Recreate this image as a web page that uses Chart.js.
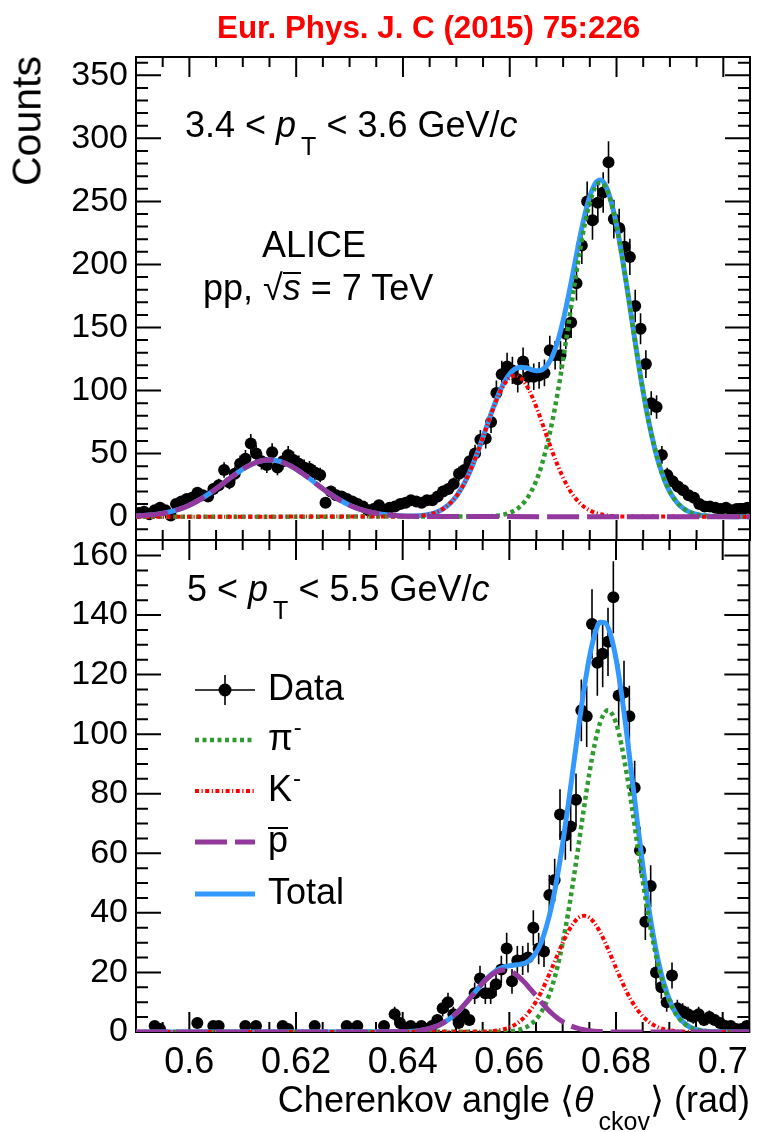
<!DOCTYPE html>
<html>
<head>
<meta charset="utf-8">
<title>Cherenkov angle fits</title>
<script src="https://cdn.jsdelivr.net/npm/chart.js@4.4.1/dist/chart.umd.min.js"></script>
<style>
  body { margin: 0; background: #fff; }
  #page { position: relative; width: 757px; height: 1132px; overflow: hidden; background: #fff;
          font-family: "Liberation Sans", Arial, Helvetica, sans-serif; color: #000; }
  canvas { position: absolute; left: 0; }
  .t { position: absolute; white-space: nowrap; font-size: 36px; line-height: 1; }
  .sub { font-size: 25px; position: relative; top: 18px; margin-left: 5px; }
  .sup { font-size: 24px; position: relative; top: -15px; margin-left: 1px; }
  /* bar drawn as a top border so its height can be set */
  .bar { display: inline-block; border-top: 2px solid #000; }
  #journal { font-family: "Liberation Sans Narrow", "Liberation Sans", Arial, sans-serif; font-weight: bold;
             font-size: 32px; color: #ff0000; left: 217px; top: 11px; transform-origin: left top; }
  #ytitle { left: 27px; top: 121px; font-size: 41px; transform: translate(-50%, -50%) rotate(-90deg); }
</style>
</head>
<body>
<div id="page">
  <canvas id="chartTop" width="757" height="580" style="top:0"></canvas>
  <canvas id="chartBottom" width="757" height="632" style="top:500px"></canvas>

  <div class="t" id="journal">Eur. Phys. J. C (2015) 75:226</div>
  <div class="t" id="ytitle">Counts</div>

  <div class="t" style="left:185px;top:107px">3.4 &lt; <i>p</i><span class="sub">T</span> &lt; 3.6 GeV/<i>c</i></div>
  <div class="t" style="left:262px;top:227px">ALICE</div>
  <div class="t" style="left:203px;top:270px">pp, √<i class="bar" style="line-height:0.8">s</i> = 7 TeV</div>

  <div class="t" style="left:187px;top:571px">5 &lt; <i>p</i><span class="sub">T</span> &lt; 5.5 GeV/<i>c</i></div>
  <div class="t" style="left:268px;top:670px">Data</div>
  <div class="t" style="left:268px;top:720px">π<span class="sup">-</span></div>
  <div class="t" style="left:268px;top:771px">K<span class="sup">-</span></div>
  <div class="t" style="left:268px;top:822px"><span class="bar" style="line-height:0.6">p</span></div>
  <div class="t" style="left:268px;top:874px">Total</div>

  <div class="t" style="right:7px;top:1082px">Cherenkov angle ⟨<i>θ</i><span class="sub">ckov</span>⟩ (rad)</div>
</div>

<script>
// histogram binning of the Cherenkov angle (rad)
const BIN_LO = 0.59;
const BIN_W = 0.001;
const X_MIN = 0.59;
const X_MAX = 0.705;

const xTicks = [0.6, 0.62, 0.64, 0.66, 0.68, 0.7];
const yTicksTop = [0, 50, 100, 150, 200, 250, 300, 350];
const yTicksBottom = [0, 20, 40, 60, 80, 100, 120, 140, 160];

// counts per bin, 3.4 < pT < 3.6 GeV/c
const countsTop = [
  3, 4, 2, 5, 7, 5, 1, 10, 12, 14,
  15, 19, 17, 16, 22, 25, 37, 27, 34, 42,
  46, 58, 50, 44, 41, 51, 39, 44, 49, 45,
  42, 39, 38, 35, 33, 11, 20, 17, 16, 14,
  12, 10, 8, 5, 6, 9, 5, 7, 8, 10,
  11, 13, 12, 11, 13, 13, 16, 20, 22, 26,
  34, 37, 44, 50, 61, 62, 75, 98, 113, 119,
  116, 109, 123, 111, 111, 112, 114, 132, 128, 128,
  145, 154, 185, 215, 250, 235, 249, 257, 281, 236,
  229, 214, 206, 167, 149, 121, 90, 87, 49, 33,
  28, 24, 21, 17, 15, 10, 8, 8, 7, 6,
  7, 5, 6, 5, 7
];

// counts per bin, 5 < pT < 5.5 GeV/c (empty bins are not drawn)
const countsBottom = [
  0, 0, 0, 2, 1, 0, 0, 0, 0, 0,
  0, 3, 0, 0, 2, 2, 0, 0, 0, 0,
  2, 0, 2, 0, 0, 0, 0, 2, 1, 0,
  0, 0, 0, 2, 0, 0, 0, 0, 0, 2,
  0, 2, 0, 0, 0, 0, 2, 0, 6, 3,
  1, 2, 1, 2, 1, 2, 4, 8, 10, 6,
  3, 6, 4, 13, 18, 13, 13, 16, 21, 28,
  17, 24, 24, 25, 35, 28, 27, 46, 51, 73,
  66, 69, 78, 108, 106, 137, 124, 127, 131, 146,
  113, 114, 106, 82, 61, 37, 49, 20, 15, 10,
  19, 8, 7, 6, 5, 6, 4, 5, 4, 3,
  2, 2, 1, 1, 2
];

// fitted curves [angle, counts], upper panel
const pionTop = [
  [0.590, 0], [0.655, 0.15], [0.656, 0.3], [0.657, 0.6], [0.658, 1.0], [0.659, 1.8], [0.660, 3.1],
  [0.661, 5.1], [0.662, 8.3], [0.663, 13.0], [0.664, 19.7], [0.665, 28.9], [0.666, 41.1],
  [0.667, 57.0], [0.668, 76.1], [0.669, 98.8], [0.670, 124.6], [0.671, 152.4], [0.672, 180.5],
  [0.673, 207.2], [0.674, 230.8], [0.675, 249.1], [0.676, 261.0], [0.677, 265], [0.678, 261.0],
  [0.679, 249.1], [0.680, 230.8], [0.681, 207.2], [0.682, 180.5], [0.683, 152.4], [0.684, 124.6],
  [0.685, 98.8], [0.686, 76.1], [0.687, 57.0], [0.688, 41.1], [0.689, 28.9], [0.690, 19.7],
  [0.691, 13.0], [0.692, 8.3], [0.693, 5.1], [0.694, 3.1], [0.695, 1.8], [0.696, 1.0],
  [0.697, 0.6], [0.698, 0.3], [0.699, 0.15], [0.705, 0]
];
const kaonTop = [
  [0.590, 0], [0.641, 0.2], [0.642, 0.35], [0.643, 0.6], [0.644, 1.1], [0.645, 1.9], [0.646, 3.1],
  [0.647, 4.9], [0.648, 7.6], [0.649, 11.3], [0.650, 16.2], [0.651, 22.7], [0.652, 30.8],
  [0.653, 40.4], [0.654, 51.3], [0.655, 63.1], [0.656, 75.2], [0.657, 86.8], [0.658, 97.0],
  [0.659, 105.1], [0.660, 110.2], [0.661, 112], [0.662, 110.2], [0.663, 105.1], [0.664, 97.0],
  [0.665, 86.8], [0.666, 75.2], [0.667, 63.1], [0.668, 51.3], [0.669, 40.4], [0.670, 30.8],
  [0.671, 22.7], [0.672, 16.2], [0.673, 11.3], [0.674, 7.6], [0.675, 4.9], [0.676, 3.1],
  [0.677, 1.9], [0.678, 1.1], [0.679, 0.6], [0.680, 0.35], [0.681, 0.2], [0.705, 0]
];
const protonTop = [
  [0.590, 0.5], [0.592, 1.1], [0.594, 2.0], [0.596, 3.5], [0.598, 5.8], [0.600, 9.1],
  [0.602, 13.6], [0.604, 19.1], [0.606, 25.3], [0.608, 31.8], [0.610, 37.7], [0.612, 42.2],
  [0.614, 44.7], [0.615, 45], [0.616, 44.7], [0.618, 42.2], [0.620, 37.7], [0.622, 31.8],
  [0.624, 25.3], [0.626, 19.1], [0.628, 13.6], [0.630, 9.1], [0.632, 5.8], [0.634, 3.5],
  [0.636, 2.0], [0.638, 1.1], [0.640, 0.5], [0.642, 0.26], [0.644, 0.12], [0.705, 0]
];
const totalTop = [
  [0.590, 0.5], [0.592, 1.1], [0.594, 2.0], [0.596, 3.5], [0.598, 5.8], [0.600, 9.1],
  [0.602, 13.6], [0.604, 19.1], [0.606, 25.3], [0.608, 31.8], [0.610, 37.7], [0.612, 42.2],
  [0.614, 44.7], [0.615, 45], [0.616, 44.7], [0.618, 42.2], [0.620, 37.7], [0.622, 31.8],
  [0.624, 25.3], [0.626, 19.1], [0.628, 13.6], [0.630, 9.1], [0.632, 5.8], [0.634, 3.5],
  [0.636, 2.0], [0.638, 1.1], [0.640, 0.6], [0.642, 0.6], [0.644, 1.2], [0.645, 1.95],
  [0.646, 3.1], [0.647, 4.9], [0.648, 7.6], [0.649, 11.3], [0.650, 16.2], [0.651, 22.7],
  [0.652, 30.8], [0.653, 40.4], [0.654, 51.3], [0.655, 63.3], [0.656, 75.5], [0.657, 87.4],
  [0.658, 98.0], [0.659, 106.9], [0.660, 113.3], [0.661, 117.1], [0.662, 118.5], [0.663, 118.1],
  [0.664, 116.7], [0.665, 115.7], [0.666, 116.3], [0.667, 120.1], [0.668, 127.4], [0.669, 139.2],
  [0.670, 155.4], [0.671, 175.1], [0.672, 196.7], [0.673, 218.5], [0.674, 238.4], [0.675, 254.0],
  [0.676, 264.1], [0.677, 266.9], [0.678, 262.1], [0.679, 249.7], [0.680, 231.2], [0.681, 207.4],
  [0.682, 180.6], [0.683, 152.4], [0.684, 124.6], [0.685, 98.8], [0.686, 76.1], [0.687, 57.0],
  [0.688, 41.1], [0.689, 28.9], [0.690, 19.7], [0.691, 13.0], [0.692, 8.3], [0.693, 5.1],
  [0.694, 3.1], [0.695, 1.8], [0.696, 1.0], [0.697, 0.6], [0.699, 0.15], [0.705, 0]
];

// fitted curves [angle, counts], lower panel
const pionBottom = [
  [0.590, 0], [0.659, 0.12], [0.660, 0.24], [0.661, 0.46], [0.662, 0.85], [0.663, 1.5],
  [0.664, 2.56], [0.665, 4.2], [0.666, 6.7], [0.667, 10.3], [0.668, 15.2], [0.669, 21.7],
  [0.670, 29.9], [0.671, 39.7], [0.672, 50.9], [0.673, 63.0], [0.674, 75.3], [0.675, 86.8],
  [0.676, 96.6], [0.677, 103.8], [0.678, 107.5], [0.6785, 108], [0.679, 107.5], [0.680, 103.8],
  [0.681, 96.6], [0.682, 86.8], [0.683, 75.3], [0.684, 63.0], [0.685, 50.9], [0.686, 39.7],
  [0.687, 29.9], [0.688, 21.7], [0.689, 15.2], [0.690, 10.3], [0.691, 6.7], [0.692, 4.2],
  [0.693, 2.56], [0.694, 1.5], [0.695, 0.85], [0.696, 0.46], [0.697, 0.24], [0.698, 0.12], [0.705, 0]
];
const kaonBottom = [
  [0.590, 0], [0.655, 0.1], [0.656, 0.18], [0.657, 0.33], [0.658, 0.57], [0.659, 0.95],
  [0.660, 1.5], [0.661, 2.4], [0.662, 3.6], [0.663, 5.3], [0.664, 7.5], [0.665, 10.2],
  [0.666, 13.5], [0.667, 17.4], [0.668, 21.5], [0.669, 25.8], [0.670, 29.9], [0.671, 33.6],
  [0.672, 36.5], [0.673, 38.4], [0.674, 39], [0.675, 38.4], [0.676, 36.5], [0.677, 33.6],
  [0.678, 29.9], [0.679, 25.8], [0.680, 21.5], [0.681, 17.4], [0.682, 13.5], [0.683, 10.2],
  [0.684, 7.5], [0.685, 5.3], [0.686, 3.6], [0.687, 2.4], [0.688, 1.5], [0.689, 0.95],
  [0.690, 0.57], [0.691, 0.33], [0.692, 0.18], [0.693, 0.1], [0.705, 0]
];
const protonBottom = [
  [0.590, 0], [0.639, 0.05], [0.641, 0.17], [0.642, 0.28], [0.643, 0.46], [0.644, 0.73],
  [0.645, 1.13], [0.646, 1.7], [0.647, 2.45], [0.648, 3.45], [0.649, 4.7], [0.650, 6.2],
  [0.651, 8.0], [0.652, 10.0], [0.653, 12.2], [0.654, 14.3], [0.655, 16.4], [0.656, 18.2],
  [0.657, 19.6], [0.658, 20.5], [0.659, 20.8], [0.660, 20.5], [0.661, 19.6], [0.662, 18.2],
  [0.663, 16.4], [0.664, 14.3], [0.665, 12.2], [0.666, 10.0], [0.667, 8.0], [0.668, 6.2],
  [0.669, 4.7], [0.670, 3.45], [0.671, 2.45], [0.672, 1.7], [0.673, 1.13], [0.674, 0.73],
  [0.675, 0.46], [0.676, 0.28], [0.677, 0.17], [0.679, 0.05], [0.705, 0]
];
const totalBottom = [
  [0.590, 0], [0.639, 0.05], [0.641, 0.17], [0.642, 0.28], [0.643, 0.46], [0.644, 0.73],
  [0.645, 1.13], [0.646, 1.7], [0.647, 2.45], [0.648, 3.45], [0.649, 4.7], [0.650, 6.2],
  [0.651, 8.0], [0.652, 10.0], [0.653, 12.2], [0.654, 14.3], [0.655, 16.5], [0.656, 18.4],
  [0.657, 19.9], [0.658, 21.1], [0.659, 21.9], [0.660, 22.2], [0.661, 22.5], [0.662, 22.7],
  [0.663, 23.2], [0.664, 24.4], [0.665, 26.6], [0.666, 30.2], [0.667, 35.7], [0.668, 42.9],
  [0.669, 52.2], [0.670, 63.3], [0.671, 75.8], [0.672, 89.1], [0.673, 102.5], [0.674, 115.0],
  [0.675, 125.7], [0.676, 133.4], [0.677, 137.6], [0.678, 137.4], [0.679, 133.3], [0.680, 125.3],
  [0.681, 114.0], [0.682, 100.3], [0.683, 85.5], [0.684, 70.5], [0.685, 56.2], [0.686, 43.3],
  [0.687, 32.3], [0.688, 23.2], [0.689, 16.2], [0.690, 10.9], [0.691, 7.0], [0.692, 4.4],
  [0.693, 2.7], [0.694, 1.5], [0.695, 0.85], [0.696, 0.46], [0.697, 0.24], [0.699, 0.05], [0.705, 0]
];

Chart.defaults.font.family = '"Liberation Sans", Arial, Helvetica, sans-serif';
Chart.defaults.color = '#000';

// the red journal line is fitted to its printed width
const journal = document.getElementById('journal');
journal.style.transform = 'scaleX(' + (423 / journal.offsetWidth) + ')';

function histPoints(counts) {
  const pts = [];
  counts.forEach((n, i) => {
    if (n > 0) pts.push({ x: BIN_LO + (i + 0.5) * BIN_W, y: n });
  });
  return pts;
}

function toXY(pairs) {
  return pairs.map(([x, y]) => ({ x, y }));
}

const curveCommon = { pointRadius: 0, fill: false, cubicInterpolationMode: 'monotone', borderCapStyle: 'butt' };

// dataset index order = legend order; "order" sets the drawing stack (1 on top)
function buildDatasets(counts, pion, kaon, proton, total) {
  return [
    { label: 'Data', data: histPoints(counts), showLine: false, pointRadius: 6, pointHoverRadius: 6,
      pointBackgroundColor: '#000', pointBorderWidth: 0, order: 5 },
    { label: 'π⁻', data: toXY(pion), borderColor: '#2f9a2f', borderWidth: 4.5, borderDash: [4, 3.5], order: 3, ...curveCommon },
    { label: 'K⁻', data: toXY(kaon), borderColor: '#ff0000', borderWidth: 4, borderDash: [4, 2.5, 1.2, 2.5], order: 2, ...curveCommon },
    { label: 'p̄', data: toXY(proton), borderColor: '#93389c', borderWidth: 5, borderDash: [32, 8], order: 1, ...curveCommon },
    { label: 'Total', data: toXY(total), borderColor: '#3399ff', borderWidth: 5, order: 4, ...curveCommon }
  ];
}

// frame around the pad with inward ticks on all four sides
const frameTicks = {
  id: 'frameTicks',
  beforeDatasetsDraw(chart, args, o) {
    const { ctx, chartArea: a, scales: { x, y } } = chart;
    const isMajor = (v, step) => Math.abs(v / step - Math.round(v / step)) < 1e-6;
    ctx.save();
    ctx.strokeStyle = '#000';
    ctx.lineWidth = 2;
    ctx.beginPath();
    for (let k = Math.ceil(x.min / o.xMinor - 1e-6); k * o.xMinor <= x.max + 1e-9; k++) {
      const v = k * o.xMinor;
      const px = x.getPixelForValue(v);
      if (px < a.left + 1 || px > a.right - 1) continue;
      const len = isMajor(v, o.xMajor) ? 20 : 10;
      ctx.moveTo(px, a.bottom); ctx.lineTo(px, a.bottom - len);
      ctx.moveTo(px, a.top); ctx.lineTo(px, a.top + len);
    }
    for (let k = Math.ceil(y.min / o.yMinor - 1e-6); k * o.yMinor <= y.max + 1e-9; k++) {
      const v = k * o.yMinor;
      const py = y.getPixelForValue(v);
      if (py < a.top + 1 || py > a.bottom - 1) continue;
      const len = isMajor(v, o.yMajor) ? 25 : 12;
      ctx.moveTo(a.left, py); ctx.lineTo(a.left + len, py);
      ctx.moveTo(a.right, py); ctx.lineTo(a.right - len, py);
    }
    ctx.stroke();
    ctx.strokeRect(a.left, a.top, a.right - a.left, a.bottom - a.top);
    ctx.restore();
  }
};

// vertical Poisson error bars under the data markers
const errorBars = {
  id: 'errorBars',
  beforeDatasetsDraw(chart) {
    const { ctx, scales: { x, y } } = chart;
    const ds = chart.data.datasets.find(d => d.label === 'Data');
    ctx.save();
    ctx.strokeStyle = '#000';
    ctx.lineWidth = 1.6;
    ctx.beginPath();
    ds.data.forEach(p => {
      const err = Math.sqrt(p.y);
      const px = x.getPixelForValue(p.x);
      ctx.moveTo(px, y.getPixelForValue(p.y - err));
      ctx.lineTo(px, y.getPixelForValue(p.y + err));
    });
    ctx.stroke();
    ctx.restore();
  }
};

// legend line samples; the labels are html text next to them
const legendSamples = {
  id: 'legendSamples',
  afterDatasetsDraw(chart, args, o) {
    const ctx = chart.ctx;
    ctx.save();
    chart.data.datasets.forEach((ds, i) => {
      const yy = o.rows[i];
      ctx.setLineDash([]);
      if (ds.label === 'Data') {
        const xm = (o.left + o.right) / 2;
        ctx.strokeStyle = '#000';
        ctx.lineWidth = 1.6;
        ctx.beginPath();
        ctx.moveTo(o.left, yy); ctx.lineTo(o.right, yy);
        ctx.moveTo(xm, yy - 15); ctx.lineTo(xm, yy + 15);
        ctx.stroke();
        ctx.fillStyle = '#000';
        ctx.beginPath();
        ctx.arc(xm, yy, 6.5, 0, Math.PI * 2);
        ctx.fill();
        return;
      }
      ctx.strokeStyle = ds.borderColor;
      ctx.lineWidth = ds.borderWidth;
      ctx.setLineDash(ds.borderDash || []);
      ctx.beginPath();
      ctx.moveTo(o.left, yy); ctx.lineTo(o.right, yy);
      ctx.stroke();
    });
    ctx.restore();
  }
};

function makePanel(canvasId, cfg) {
  return new Chart(document.getElementById(canvasId), {
    type: 'line',
    data: { datasets: cfg.datasets },
    options: {
      responsive: false,
      animation: false,
      devicePixelRatio: 1,
      events: [],
      layout: { autoPadding: false, padding: cfg.padding },
      plugins: {
        legend: { display: false },
        tooltip: { enabled: false },
        frameTicks: cfg.ticks,
        legendSamples: cfg.legend || false
      },
      scales: {
        x: {
          type: 'linear', min: X_MIN, max: X_MAX,
          grid: { display: false, drawTicks: false }, border: { display: false },
          ticks: { display: cfg.xLabels, font: { size: 36 }, padding: 9, maxRotation: 0,
                   autoSkip: false, includeBounds: false, callback: v => String(v) },
          afterBuildTicks: s => { s.ticks = xTicks.map(value => ({ value })); },
          afterFit: s => { s.height = cfg.xAxisHeight; }
        },
        y: {
          type: 'linear', min: cfg.yMin, max: cfg.yMax,
          grid: { display: false, drawTicks: false }, border: { display: false },
          ticks: { font: { size: 34 }, padding: 8, autoSkip: false, includeBounds: false,
                   callback: v => String(v) },
          afterBuildTicks: s => { s.ticks = cfg.yTicks.map(value => ({ value })); },
          afterFit: s => { s.width = 136; }
        }
      }
    },
    plugins: [frameTicks, errorBars, legendSamples]
  });
}

// the two canvases overlap by 80 px so both pads meet at y = 540
makePanel('chartTop', {
  datasets: buildDatasets(countsTop, pionTop, kaonTop, protonTop, totalTop),
  padding: { top: 57, right: 7, bottom: 40, left: 0 },
  xLabels: false,
  xAxisHeight: 0,
  yMin: -18.5, yMax: 364.5, yTicks: yTicksTop,
  ticks: { xMinor: 0.005, xMajor: 0.02, yMinor: 10, yMajor: 50 }
});

makePanel('chartBottom', {
  datasets: buildDatasets(countsBottom, pionBottom, kaonBottom, protonBottom, totalBottom),
  padding: { top: 40, right: 7, bottom: 0, left: 0 },
  xLabels: true,
  xAxisHeight: 100,
  yMin: 0, yMax: 165.2, yTicks: yTicksBottom,
  ticks: { xMinor: 0.005, xMajor: 0.02, yMinor: 5, yMajor: 20 },
  legend: { left: 195, right: 255, rows: [190, 240, 291, 342, 394] }
});
</script>
</body>
</html>
